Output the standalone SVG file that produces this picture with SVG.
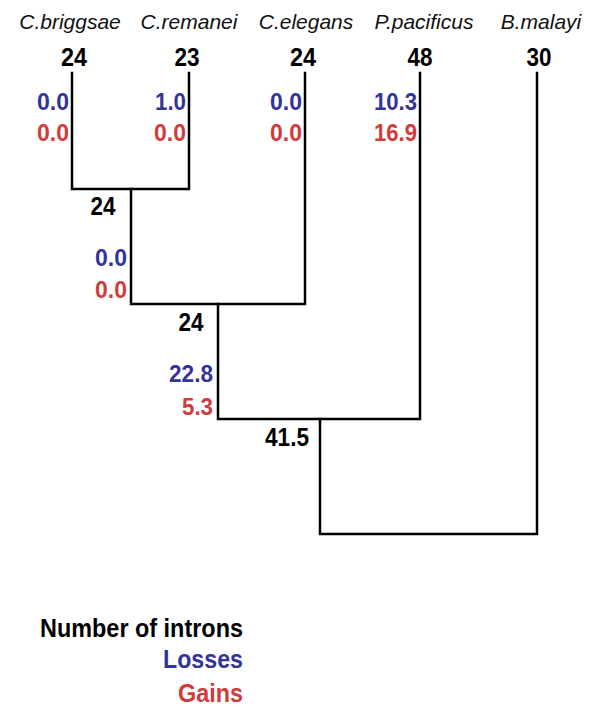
<svg xmlns="http://www.w3.org/2000/svg" width="600" height="717" viewBox="0 0 600 717">
<style>
text{font-family:"Liberation Sans",Arial,sans-serif}
.sp{font-size:21px;font-style:italic;fill:#111;text-anchor:middle}
.n{font-size:26px;font-weight:bold;fill:#000;text-anchor:middle}
.l{font-size:24px;font-weight:bold;fill:#33339b;text-anchor:end}
.g{font-size:24px;font-weight:bold;fill:#d23b3b;text-anchor:end}
.lg{font-size:26px;font-weight:bold;text-anchor:end}
.e{fill:none;stroke:#000;stroke-width:2.5;stroke-linecap:square}
</style>
<rect width="600" height="717" fill="#fff"/>
<g id="connectors">
<path class="e" d="M72,73V189H189V73"/>
<path class="e" d="M131,189V304H305V73"/>
<path class="e" d="M218,304V419H420V73"/>
<path class="e" d="M320,419V534H537V73"/>
</g>
<g id="cbriggsae">
<text class="sp" x="70" y="29">C.briggsae</text>
<text class="n" x="74" y="66" textLength="26" lengthAdjust="spacingAndGlyphs">24</text>
<text class="l" x="69" y="110" textLength="32" lengthAdjust="spacingAndGlyphs">0.0</text>
<text class="g" x="69" y="141" textLength="32" lengthAdjust="spacingAndGlyphs">0.0</text>
</g>
<g id="cremanei">
<text class="sp" x="189" y="29">C.remanei</text>
<text class="n" x="187" y="66" textLength="25" lengthAdjust="spacingAndGlyphs">23</text>
<text class="l" x="186" y="110" textLength="31" lengthAdjust="spacingAndGlyphs">1.0</text>
<text class="g" x="186" y="141" textLength="32" lengthAdjust="spacingAndGlyphs">0.0</text>
</g>
<g id="celegans">
<text class="sp" x="306" y="29">C.elegans</text>
<text class="n" x="303" y="66" textLength="26" lengthAdjust="spacingAndGlyphs">24</text>
<text class="l" x="302" y="110" textLength="32" lengthAdjust="spacingAndGlyphs">0.0</text>
<text class="g" x="302" y="141" textLength="32" lengthAdjust="spacingAndGlyphs">0.0</text>
</g>
<g id="ppacificus">
<text class="sp" x="424" y="29">P.pacificus</text>
<text class="n" x="420" y="66" textLength="25" lengthAdjust="spacingAndGlyphs">48</text>
<text class="l" x="417" y="110" textLength="43" lengthAdjust="spacingAndGlyphs">10.3</text>
<text class="g" x="417" y="141" textLength="43" lengthAdjust="spacingAndGlyphs">16.9</text>
</g>
<g id="bmalayi">
<text class="sp" x="541" y="29">B.malayi</text>
<text class="n" x="539" y="66" textLength="25" lengthAdjust="spacingAndGlyphs">30</text>
</g>
<g id="node1">
<text class="n" x="103" y="215" textLength="25" lengthAdjust="spacingAndGlyphs">24</text>
<text class="l" x="127" y="266" textLength="32" lengthAdjust="spacingAndGlyphs">0.0</text>
<text class="g" x="127" y="298" textLength="32" lengthAdjust="spacingAndGlyphs">0.0</text>
</g>
<g id="node2">
<text class="n" x="191" y="331" textLength="25" lengthAdjust="spacingAndGlyphs">24</text>
<text class="l" x="213" y="382" textLength="44" lengthAdjust="spacingAndGlyphs">22.8</text>
<text class="g" x="213" y="415" textLength="31" lengthAdjust="spacingAndGlyphs">5.3</text>
</g>
<g id="node3">
<text class="n" x="287" y="446" textLength="44" lengthAdjust="spacingAndGlyphs">41.5</text>
</g>
<g id="legend">
<text class="lg" x="243" y="637" fill="#000" textLength="203" lengthAdjust="spacingAndGlyphs">Number of introns</text>
<text class="lg" x="243" y="668" fill="#33339b" textLength="80" lengthAdjust="spacingAndGlyphs">Losses</text>
<text class="lg" x="243" y="702" fill="#d23b3b" textLength="65" lengthAdjust="spacingAndGlyphs">Gains</text>
</g>
</svg>
